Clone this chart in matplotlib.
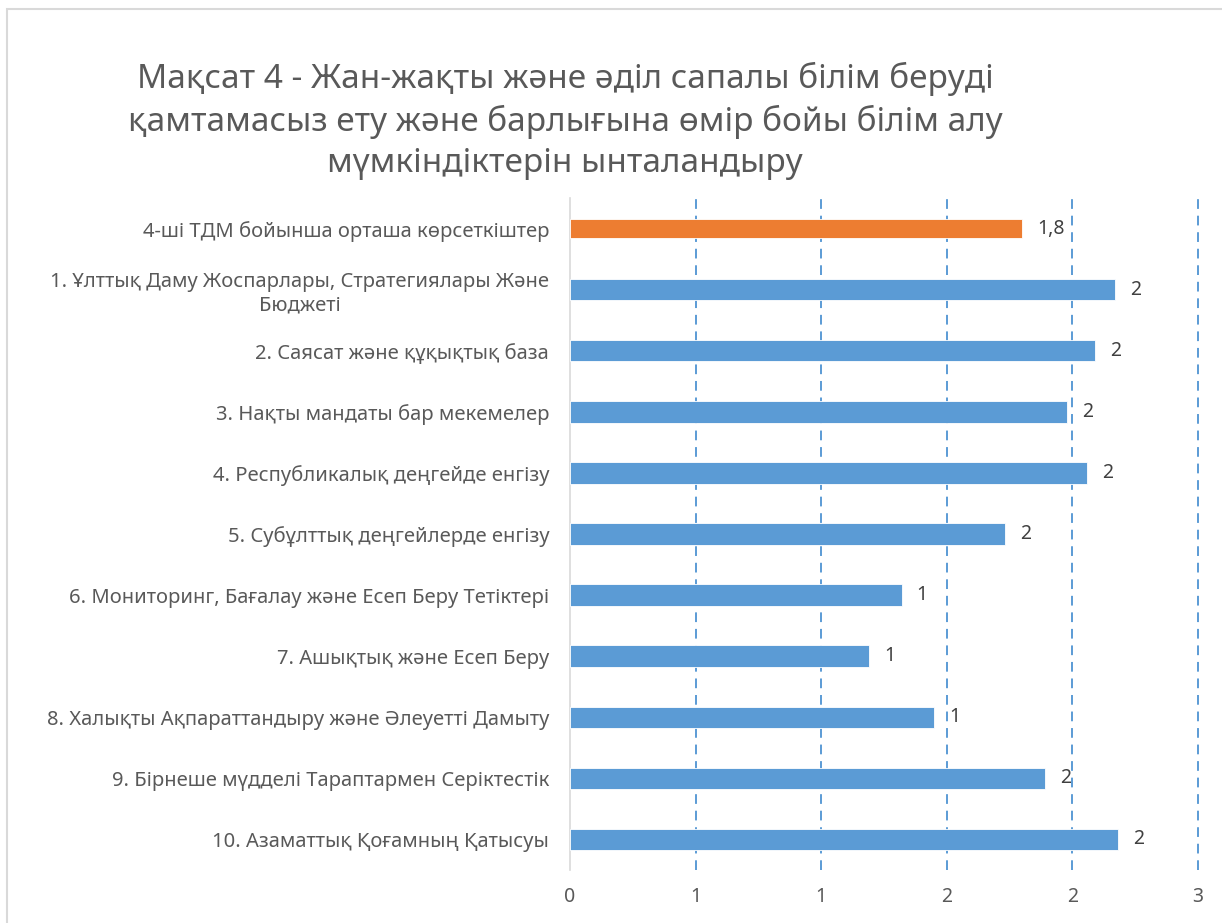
import matplotlib.pyplot as plt
from matplotlib.patches import Rectangle

plt.rcParams['font.family'] = ['Noto Sans', 'DejaVu Sans']

title = ('Мақсат 4 - Жан-жақты және әділ сапалы білім беруді\n'
         'қамтамасыз ету және барлығына өмір бойы білім алу\n'
         'мүмкіндіктерін ынталандыру')

categories = [
    '4-ші ТДМ бойынша орташа көрсеткіштер',
    '1. Ұлттық Даму Жоспарлары, Стратегиялары Және\nБюджеті',
    '2. Саясат және құқықтық база',
    '3. Нақты мандаты бар мекемелер',
    '4. Республикалық деңгейде енгізу',
    '5. Субұлттық деңгейлерде енгізу',
    '6. Мониторинг, Бағалау және Есеп Беру Тетіктері',
    '7. Ашықтық және Есеп Беру',
    '8. Халықты Ақпараттандыру және Әлеуетті Дамыту',
    '9. Бірнеше мүдделі Тараптармен Серіктестік',
    '10. Азаматтық Қоғамның Қатысуы',
]
values = [1.80, 2.17, 2.09, 1.98, 2.06, 1.73, 1.32, 1.19, 1.45, 1.89, 2.18]
value_labels = ['1,8', '2', '2', '2', '2', '2', '1', '1', '1', '2', '2']
x_ticks = [0, 0.5, 1, 1.5, 2, 2.5]
x_tick_labels = ['0', '1', '1', '2', '2', '3']

text_color = '#595959'
blue = '#5B9BD5'
orange = '#ED7D31'

fig = plt.figure(figsize=(12.22, 9.23), dpi=100)
fig.patches.append(Rectangle((7 / 1222, -0.1), 1.2, 1 - 9 / 923 + 0.1,
                             transform=fig.transFigure, fill=False,
                             edgecolor='#D9D9D9', linewidth=1.5))

ax = fig.add_axes([570 / 1222, 1 - 870 / 923, 628 / 1222, 672 / 923])

n = len(categories)
pos = list(range(n))
colors = [orange] + [blue] * (n - 1)
heights = [0.30] + [0.35] * (n - 1)
ax.barh(pos, values, height=heights, color=colors, edgecolor='white',
        linewidth=0.6, zorder=3)

for p, v, lab in zip(pos, values, value_labels):
    ax.text(v + 0.06, p, lab, va='center', ha='left', fontsize=14,
            color='#404040', zorder=4)

ax.set_ylim(n - 0.5, -0.5)
ax.set_xlim(0, 2.5)
ax.set_yticks(pos)
ax.set_yticklabels(categories, fontsize=14.5, color=text_color,
                   multialignment='center')
ax.set_xticks(x_ticks)
ax.set_xticklabels(x_tick_labels, fontsize=14, color=text_color)
ax.tick_params(axis='both', length=0)
ax.tick_params(axis='y', pad=15)
ax.tick_params(axis='x', pad=12)

for x in x_ticks[1:]:
    ax.axvline(x, color=blue, linestyle=(0, (5, 3.5)), linewidth=1.4,
               zorder=0, clip_on=False)
for s in ['top', 'right', 'bottom']:
    ax.spines[s].set_visible(False)
ax.spines['left'].set_color('#D9D9D9')
ax.spines['left'].set_linewidth(1.2)

fig.text(565 / 1222, 1 - 121 / 923, title, ha='center', va='center',
         fontsize=24, color=text_color, linespacing=1.32)

fig.savefig('out.png', dpi=100)
